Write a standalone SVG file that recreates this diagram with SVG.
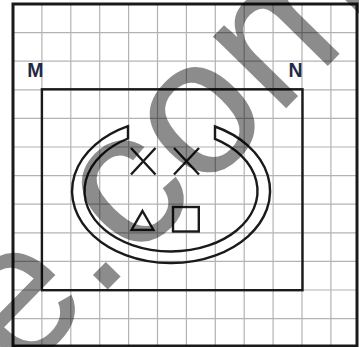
<svg xmlns="http://www.w3.org/2000/svg" width="359" height="347" viewBox="0 0 359 347">
  <defs>
    <style>
      .grid line { stroke: #b3b3b3; stroke-width: 1.2; }
      .frame { fill: none; stroke: #1a1a1a; }
      .shape { fill: none; stroke: #1a1a1a; stroke-width: 2.4; }
      .lbl { font-family: "Liberation Sans", Arial, sans-serif; font-weight: bold; font-size: 19.5px; fill: #1f2a48; }
      .wm { font-family: "Liberation Sans", Arial, sans-serif; font-size: 194px; fill: #000; fill-opacity: 0.45; }
    </style>
  </defs>
  <rect x="0" y="0" width="359" height="347" fill="#ffffff"/>
  <g id="grid" class="grid">
    <line x1="41.9" y1="4" x2="41.9" y2="346"/>
    <line x1="70.8" y1="4" x2="70.8" y2="346"/>
    <line x1="99.7" y1="4" x2="99.7" y2="346"/>
    <line x1="128.6" y1="4" x2="128.6" y2="346"/>
    <line x1="157.5" y1="4" x2="157.5" y2="346"/>
    <line x1="186.4" y1="4" x2="186.4" y2="346"/>
    <line x1="215.3" y1="4" x2="215.3" y2="346"/>
    <line x1="244.2" y1="4" x2="244.2" y2="346"/>
    <line x1="273.1" y1="4" x2="273.1" y2="346"/>
    <line x1="302" y1="4" x2="302" y2="346"/>
    <line x1="330.9" y1="4" x2="330.9" y2="346"/>
    <line x1="13" y1="32.6" x2="357" y2="32.6"/>
    <line x1="13" y1="61.2" x2="357" y2="61.2"/>
    <line x1="13" y1="89.8" x2="357" y2="89.8"/>
    <line x1="13" y1="118.4" x2="357" y2="118.4"/>
    <line x1="13" y1="147" x2="357" y2="147"/>
    <line x1="13" y1="175.6" x2="357" y2="175.6"/>
    <line x1="13" y1="204.2" x2="357" y2="204.2"/>
    <line x1="13" y1="232.8" x2="357" y2="232.8"/>
    <line x1="13" y1="261.4" x2="357" y2="261.4"/>
    <line x1="13" y1="290" x2="357" y2="290"/>
    <line x1="13" y1="318.6" x2="357" y2="318.6"/>
  </g>
  <g id="outer-square">
    <rect class="frame" x="13" y="4" width="344" height="342" stroke-width="3"/>
  </g>
  <g id="M">
    <text class="lbl" x="27.3" y="76.7">M</text>
  </g>
  <g id="N">
    <text class="lbl" x="288.5" y="77">N</text>
  </g>
  <g id="inner-rect">
    <rect class="frame" x="41.9" y="89.3" width="260.6" height="200.9" stroke-width="2.4"/>
  </g>
  <g id="ring">
    <path class="shape" d="M 128 126.2 A 99 72 0 1 0 215 126.5 L 215 138.9 A 86.5 60.5 0 1 1 128 138.5 Z"/>
  </g>
  <g id="cross-1">
    <path class="shape" d="M 131 148 L 155.5 174.5 M 155.5 148 L 131 174.5"/>
  </g>
  <g id="cross-2">
    <path class="shape" d="M 174 148 L 199 174.5 M 199 148 L 174 174.5"/>
  </g>
  <g id="triangle">
    <path class="shape" d="M 142.5 211 L 153.5 230 L 131.5 230 Z" stroke-width="2.8"/>
  </g>
  <g id="square">
    <rect class="shape" x="173" y="207" width="25.8" height="24.5"/>
  </g>
  <text class="wm" x="0" y="0" transform="translate(19.7,379.2) rotate(-45.5)">e.com</text>
</svg>
